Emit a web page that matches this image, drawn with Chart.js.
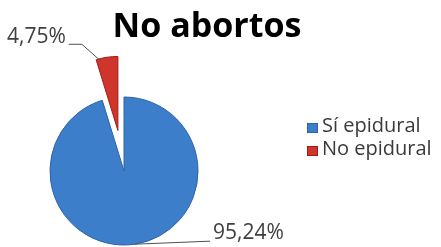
<!DOCTYPE html>
<html>
<head>
<meta charset="utf-8">
<script src="https://cdn.jsdelivr.net/npm/chart.js"></script>
<style>
  html, body { margin: 0; padding: 0; background: #fff; }
  #wrap { position: relative; width: 441px; height: 247px; overflow: hidden; }
  #chart { position: absolute; left: 0; top: 0; }
  #title { position: absolute; left: 0; top: 7px; width: 414px; text-align: center;
           font: bold 34px/34px "Open Sans", sans-serif; color: #000; }
  #legend { position: absolute; left: 307px; top: 113px; font: 20px/23px "Open Sans", sans-serif; color: #3a3a3a; }
  #legend div { white-space: nowrap; }
  #legend span { display: inline-block; width: 11px; height: 10px; margin-right: 4px; vertical-align: -1px; }
</style>
</head>
<body>
<div id="wrap">
  <canvas id="chart" width="441" height="247"></canvas>
  <div id="title">No abortos</div>
  <div id="legend"></div>
</div>
<script>
// data
var categories = ['Sí epidural', 'No epidural'];
var values = [95.24, 4.75];
var colors = ['#3d7ecb', '#d0352c'];
var edgeColors = ['#2c62a6', '#9e1f1a'];

// legend (html)
var lg = document.getElementById('legend');
for (var i = 0; i < categories.length; i++) {
  var row = document.createElement('div');
  row.innerHTML = '<span style="background:' + colors[i] + ';box-shadow:inset 0 0 0 1px ' + edgeColors[i] + '"></span>' + categories[i];
  lg.appendChild(row);
}

function fmt(v) { return v.toFixed(2).replace('.', ',') + '%'; }

// pull slices out of the pie (chart.js offset also grows the radius, so do it here)
var explodePlugin = {
  id: 'explode',
  afterDatasetsUpdate: function(chart) {
    var ds = chart.data.datasets[0];
    var arcs = chart.getDatasetMeta(0).data;
    arcs.forEach(function(arc, i) {
      var d = (ds.explode && ds.explode[i]) || 0;
      if (!d) return;
      var mid = (arc.startAngle + arc.endAngle) / 2;
      arc.x += Math.cos(mid) * d;
      arc.y += Math.sin(mid) * d;
    });
  }
};

// percent labels with leader lines
var pieLabels = {
  id: 'pieLabels',
  afterDatasetsDraw: function(chart) {
    var ctx = chart.ctx;
    var arcs = chart.getDatasetMeta(0).data;
    ctx.save();
    ctx.font = '21px "Open Sans", sans-serif';
    ctx.fillStyle = '#404040';
    ctx.strokeStyle = '#505050';
    ctx.lineWidth = 1;
    ctx.textBaseline = 'alphabetic';
    arcs.forEach(function(arc, i) {
      var mid = (arc.startAngle + arc.endAngle) / 2;
      var ex = arc.x + Math.cos(mid) * arc.outerRadius;
      var ey = arc.y + Math.sin(mid) * arc.outerRadius;
      ctx.beginPath();
      if (Math.sin(mid) > 0) {
        // lower slice: label to the right
        ctx.moveTo(ex, ey);
        ctx.lineTo(ex + 75, ey - 3);
        ctx.stroke();
        ctx.textAlign = 'left';
        ctx.fillText(fmt(values[i]), ex + 78, ey - 5);
      } else {
        // upper slice: label to the left
        ctx.moveTo(ex - 7, ey + 3);
        ctx.lineTo(ex - 25, ey - 13);
        ctx.lineTo(ex - 38, ey - 13);
        ctx.stroke();
        ctx.textAlign = 'right';
        ctx.fillText(fmt(values[i]), ex - 41, ey - 14);
      }
    });
    ctx.restore();
  }
};

new Chart(document.getElementById('chart'), {
  type: 'pie',
  data: {
    labels: categories,
    datasets: [{
      data: values,
      backgroundColor: colors,
      borderColor: edgeColors,
      borderWidth: 1,
      explode: [0, 41],
      clip: false
    }]
  },
  options: {
    responsive: false,
    animation: false,
    radius: 74,
    layout: { padding: { left: 0, right: 193, top: 95, bottom: 0 } },
    plugins: {
      legend: { display: false },
      tooltip: { enabled: false }
    }
  },
  plugins: [explodePlugin, pieLabels]
});
</script>
</body>
</html>
